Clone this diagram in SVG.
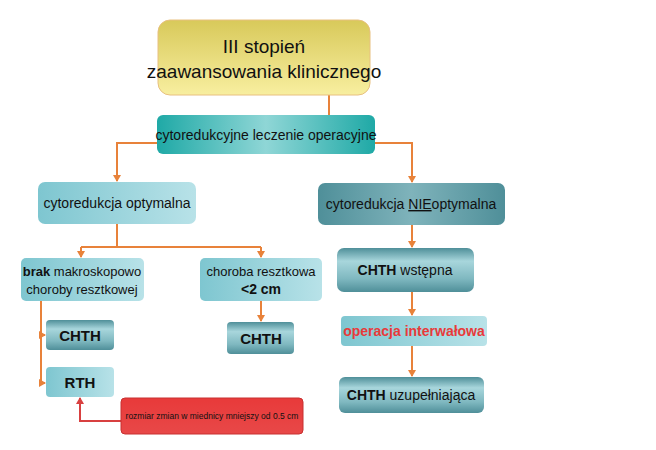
<svg xmlns="http://www.w3.org/2000/svg" width="656" height="450" viewBox="0 0 656 450">
<style>
text{font-family:"Liberation Sans",Arial,sans-serif;fill:#111;text-anchor:middle}
.c{stroke:#e8823a;stroke-width:2;fill:none}
</style>
<defs>
<linearGradient id="gy" x1="0" y1="0" x2="0" y2="1"><stop offset="0" stop-color="#d8c95a"/><stop offset="1" stop-color="#f8efa0"/></linearGradient>
<linearGradient id="gt" x1="0" y1="0" x2="1" y2="0"><stop offset="0" stop-color="#1fa9a6"/><stop offset="0.5" stop-color="#8fd6d6"/><stop offset="1" stop-color="#1fa9a6"/></linearGradient>
<linearGradient id="gl" x1="0" y1="0" x2="1" y2="0"><stop offset="0" stop-color="#7ec6d0"/><stop offset="1" stop-color="#b8e2e8"/></linearGradient>
<linearGradient id="gd" x1="0" y1="0" x2="1" y2="0"><stop offset="0" stop-color="#4f8f99"/><stop offset="0.5" stop-color="#7fb3bb"/><stop offset="1" stop-color="#4f8f99"/></linearGradient>
<linearGradient id="gs" x1="0" y1="0" x2="0" y2="1"><stop offset="0" stop-color="#4f8f99"/><stop offset="0.3" stop-color="#a8d6dc"/><stop offset="0.7" stop-color="#7fb8c0"/><stop offset="1" stop-color="#4f8f99"/></linearGradient>
<linearGradient id="gr" x1="0" y1="0" x2="0" y2="1"><stop offset="0" stop-color="#e83a3a"/><stop offset="1" stop-color="#e84848"/></linearGradient>
<marker id="a" markerWidth="8" markerHeight="8" refX="6" refY="4" orient="auto" markerUnits="userSpaceOnUse"><path d="M0,0 L7,4 L0,8 z" fill="#e8823a"/></marker>
<marker id="ar" markerWidth="8" markerHeight="8" refX="6" refY="4" orient="auto" markerUnits="userSpaceOnUse"><path d="M0,0 L7,4 L0,8 z" fill="#d84040"/></marker>
</defs>
<g id="connectors">
<path class="c" d="M329,95 V115"/>
<path class="c" d="M157,143 H117 V181" marker-end="url(#a)"/>
<path class="c" d="M375,143 H412 V182" marker-end="url(#a)"/>
<path class="c" d="M117,224 V247 M81,247 H261"/>
<path class="c" d="M81,247 V257" marker-end="url(#a)"/>
<path class="c" d="M261,247 V257" marker-end="url(#a)"/>
<path class="c" d="M41,301 V383 H45" marker-end="url(#a)"/>
<path class="c" d="M41,335 H45" marker-end="url(#a)"/>
<path class="c" d="M261,301 V321" marker-end="url(#a)"/>
<path class="c" d="M412,225 V247" marker-end="url(#a)"/>
<path class="c" d="M412,292 V315" marker-end="url(#a)"/>
<path class="c" d="M412,346 V376" marker-end="url(#a)"/>
<path d="M121,421 H80 V398" stroke="#d84040" stroke-width="2" fill="none" marker-end="url(#ar)"/>
</g>
<g id="n-title"><rect x="158" y="20" width="212" height="75" rx="12" fill="url(#gy)" stroke="#e8c080"/>
<text x="264" y="53" font-size="19">III stopień</text><text x="264" y="78" font-size="19">zaawansowania klinicznego</text></g>
<g id="n-oper"><rect x="157" y="115" width="218" height="39" rx="6" fill="url(#gt)"/>
<text x="266" y="140" font-size="14">cytoredukcyjne leczenie operacyjne</text></g>
<g id="n-opt"><rect x="38" y="182" width="158" height="42" rx="7" fill="url(#gl)"/>
<text x="117" y="208" font-size="14">cytoredukcja optymalna</text></g>
<g id="n-nie"><rect x="318" y="183" width="187" height="42" rx="7" fill="url(#gd)"/>
<text x="411" y="209" font-size="14">cytoredukcja <tspan text-decoration="underline">NIE</tspan>optymalna</text></g>
<g id="n-brak"><rect x="21" y="258" width="123" height="43" rx="5" fill="url(#gl)"/>
<text x="82" y="276" font-size="13"><tspan font-weight="bold">brak</tspan> makroskopowo</text><text x="82" y="294" font-size="13">choroby resztkowej</text></g>
<g id="n-chor"><rect x="200" y="258" width="122" height="43" rx="5" fill="url(#gl)"/>
<text x="261" y="276" font-size="13">choroba resztkowa</text><text x="261" y="294" font-size="14" font-weight="bold">&lt;2 cm</text></g>
<g id="n-chth1"><rect x="46" y="320" width="68" height="30" rx="4" fill="url(#gs)"/>
<text x="80" y="341" font-size="15" font-weight="bold">CHTH</text></g>
<g id="n-rth"><rect x="46" y="367" width="68" height="30" rx="4" fill="url(#gl)"/>
<text x="80" y="388" font-size="15" font-weight="bold">RTH</text></g>
<g id="n-chth2"><rect x="227" y="322" width="67" height="32" rx="4" fill="url(#gs)"/>
<text x="261" y="344" font-size="15" font-weight="bold">CHTH</text></g>
<g id="n-wst"><rect x="337" y="248" width="137" height="44" rx="7" fill="url(#gs)"/>
<text x="405" y="275" font-size="14"><tspan font-weight="bold">CHTH</tspan> wstępna</text></g>
<g id="n-int"><rect x="341" y="316" width="146" height="30" rx="4" fill="url(#gl)"/>
<text x="414" y="336" font-size="14" font-weight="bold" style="fill:#e83a3a">operacja interwałowa</text></g>
<g id="n-uzu"><rect x="339" y="377" width="145" height="36" rx="6" fill="url(#gs)"/>
<text x="411" y="400" font-size="14"><tspan font-weight="bold">CHTH</tspan> uzupełniająca</text></g>
<g id="n-red"><rect x="121" y="398" width="182" height="36" rx="4" fill="url(#gr)" stroke="#c83030"/>
<text x="212" y="419" font-size="8.5">rozmiar zmian w miednicy mniejszy od 0.5 cm</text></g>
</svg>
